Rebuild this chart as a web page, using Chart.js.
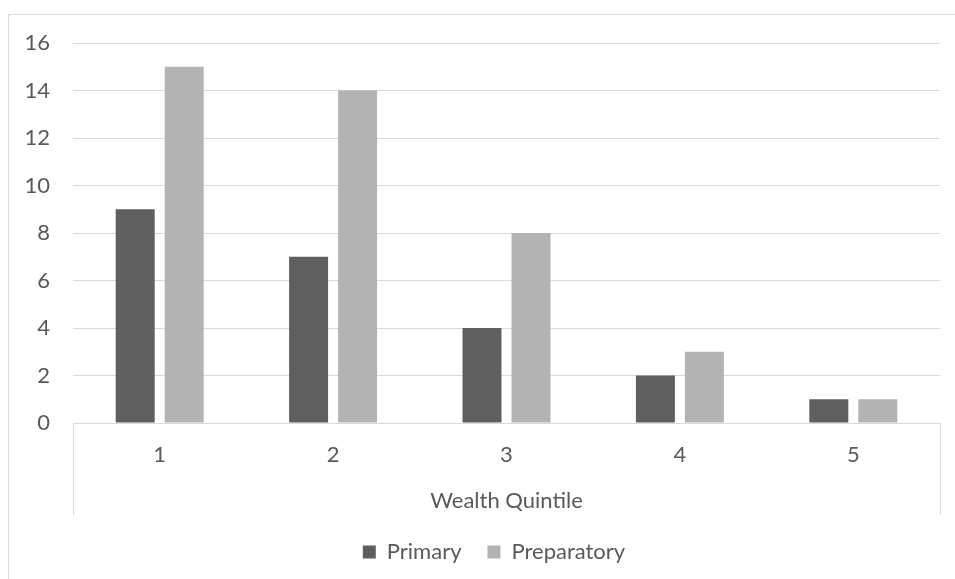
<!DOCTYPE html>
<html>
<head>
<meta charset="utf-8">
<title>Wealth Quintile</title>
<script src="https://cdn.jsdelivr.net/npm/chart.js@4.4.1/dist/chart.umd.min.js"></script>
<style>
  html, body { margin: 0; padding: 0; background: #ffffff; }
  #wrap { position: relative; width: 955px; height: 579px; }
</style>
</head>
<body>
<div id="wrap"><canvas id="chart" width="955" height="579"></canvas></div>
<script>
// Wealth quintiles on the category axis
const quintiles = ['1', '2', '3', '4', '5'];
// Counts per quintile for each school level
const primary = [9, 7, 4, 2, 1];
const preparatory = [15, 14, 8, 3, 1];
// Value axis range
const yMin = 0;
const yMax = 16;
const yStep = 2;

const textColor = '#595959';
const lineColor = '#d9d9d9';
const fontFamily = 'Lato, "Open Sans", sans-serif';

// Frame around the plot and the end dividers of the category axis
const framePlugin = {
  id: 'frame',
  beforeDraw(chart) {
    const ctx = chart.ctx;
    ctx.save();
    ctx.strokeStyle = lineColor;
    ctx.lineWidth = 1;
    ctx.strokeRect(8.5, 14.5, 2000, 2000);
    ctx.restore();
  },
  afterDraw(chart) {
    const ctx = chart.ctx;
    const area = chart.chartArea;
    const x = chart.scales.x;
    ctx.save();
    ctx.strokeStyle = lineColor;
    ctx.lineWidth = 1;
    ctx.beginPath();
    [area.left, area.right].forEach(px => {
      const cx = Math.round(px) + 0.5;
      ctx.moveTo(cx, area.bottom);
      ctx.lineTo(cx, x.bottom);
    });
    ctx.stroke();
    ctx.restore();
  },
  afterLayout(chart) {
    const lg = chart.legend;
    if (lg) { lg.left += 24; lg.right += 24; }
  }
};

new Chart(document.getElementById('chart'), {
  type: 'bar',
  data: {
    labels: quintiles,
    datasets: [
      { label: 'Primary', data: primary, backgroundColor: '#5f5f5f',
        categoryPercentage: 0.565, barPercentage: 0.796 },
      { label: 'Preparatory', data: preparatory, backgroundColor: '#b3b3b3',
        categoryPercentage: 0.565, barPercentage: 0.796 }
    ]
  },
  options: {
    responsive: false,
    animation: false,
    devicePixelRatio: 1,
    layout: { padding: { top: 43, right: 15, bottom: 6, left: 0 } },
    plugins: {
      title: { display: false },
      tooltip: { enabled: false },
      legend: {
        position: 'bottom',
        labels: {
          color: textColor,
          font: { family: fontFamily, size: 22 },
          boxWidth: 13,
          boxHeight: 13,
          padding: 26
        }
      }
    },
    scales: {
      x: {
        grid: { display: false },
        border: { display: false },
        ticks: { color: textColor, font: { family: fontFamily, size: 22 }, padding: 11, maxRotation: 0 },
        title: {
          display: true,
          text: 'Wealth Quintile',
          color: textColor,
          font: { family: fontFamily, size: 22 },
          padding: { top: 0, bottom: 1 }
        },
        afterFit(scale) { scale.height = 92; }
      },
      y: {
        min: yMin,
        max: yMax,
        ticks: { stepSize: yStep, color: textColor, font: { family: fontFamily, size: 22 }, padding: 23 },
        grid: { color: lineColor, drawTicks: false },
        border: { display: false },
        afterFit(scale) { scale.width = 73; }
      }
    }
  },
  plugins: [framePlugin]
});
</script>
</body>
</html>
